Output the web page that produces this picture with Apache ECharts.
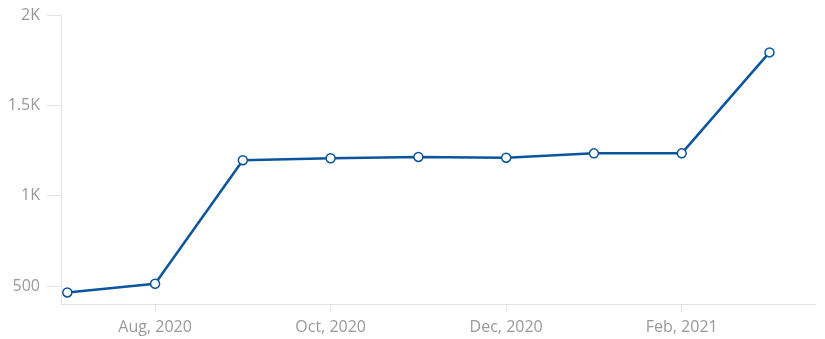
<!DOCTYPE html>
<html>
<head>
<meta charset="utf-8">
<script src="https://cdn.jsdelivr.net/npm/echarts@6/dist/echarts.min.js"></script>
<style>
html,body{margin:0;padding:0;background:#fff;}
#chart{width:825px;height:339px;}
</style>
</head>
<body>
<div id="chart"></div>
<script>
// Data
var months = ['Jul, 2020','Aug, 2020','Sep, 2020','Oct, 2020','Nov, 2020','Dec, 2020','Jan, 2021','Feb, 2021','Mar, 2021'];
var values = [464, 512, 1196, 1207, 1214, 1210, 1234, 1234, 1793];
var xTickLabels = ['Aug, 2020','Oct, 2020','Dec, 2020','Feb, 2021'];
var yTickValues = [500, 1000, 1500, 2000];

var chart = echarts.init(document.getElementById('chart'), null, {renderer:'canvas'});
var fontFamily = '"Open Sans", sans-serif';
var axisColor = '#e3e3e3';
var labelColor = '#999999';
var xTickIdx = xTickLabels.map(function(l){ return months.indexOf(l); });

chart.setOption({
  animation: false,
  grid: {left: 61, right: 9, top: 15, bottom: 35, containLabel: false},
  xAxis: {
    type: 'value',
    min: -0.072,
    max: 8.53,
    axisLine: {show: true, onZero: false, lineStyle: {color: axisColor, width: 1}},
    axisTick: {show: true, length: 8, lineStyle: {color: axisColor}, customValues: xTickIdx},
    axisLabel: {
      color: labelColor, fontSize: 16, fontFamily: fontFamily, margin: 15,
      customValues: xTickIdx,
      formatter: function(v){ return months[Math.round(v)]; }
    },
    splitLine: {show: false}
  },
  yAxis: {
    type: 'value',
    min: 400,
    max: 2000,
    axisLine: {show: true, onZero: false, lineStyle: {color: axisColor, width: 1}},
    axisTick: {show: true, length: 14, lineStyle: {color: axisColor}, customValues: yTickValues},
    axisLabel: {
      color: labelColor, fontSize: 16, fontFamily: fontFamily, margin: 21,
      customValues: yTickValues,
      formatter: function(v){ return v >= 1000 ? (v/1000) + 'K' : String(v); }
    },
    splitLine: {show: false}
  },
  series: [{
    type: 'line',
    data: values.map(function(v, i){ return [i, v]; }),
    lineStyle: {color: '#0b559e', width: 2.5},
    itemStyle: {color: '#ffffff', borderColor: '#0b559e', borderWidth: 1.5},
    symbol: 'circle',
    symbolSize: 9,
    showSymbol: true
  }]
});
</script>
</body>
</html>
